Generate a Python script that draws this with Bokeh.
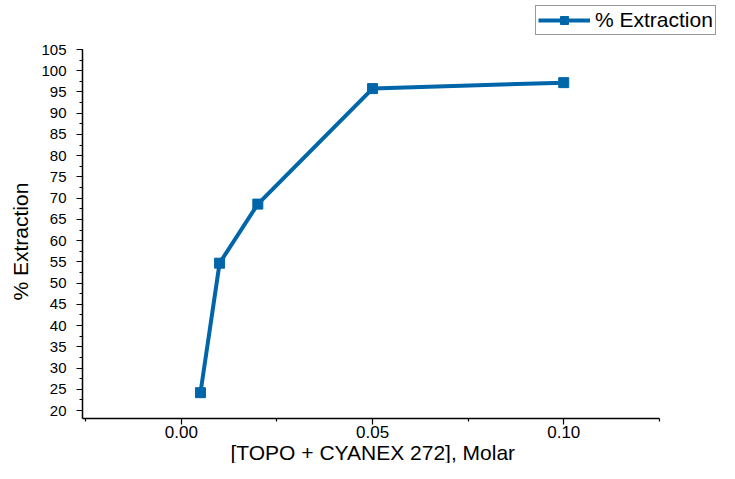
from bokeh.plotting import figure
from bokeh.models import (FixedTicker, NumeralTickFormatter, Range1d, Legend, LegendItem, Title)
from bokeh.embed import file_html
from bokeh.resources import INLINE

# Data
conc = [0.005, 0.01, 0.02, 0.05, 0.10]
extraction = [24.2, 54.7, 68.6, 95.8, 97.2]

x_major = [0.0, 0.05, 0.10]
x_minor = [-0.025, 0.025, 0.075, 0.125]
y_major = list(range(20, 106, 5))
y_minor = [17.5 + 2.5 * i for i in range(36)]

series_name = "% Extraction"
x_title = "[TOPO + CYANEX 272], Molar"
y_title = "% Extraction"

# axis extents (data units)
x_axis_start, x_axis_end = -0.02585, 0.125
y_axis_start, y_axis_end = 18.12, 105

COLOR = "#0066AA"
FONT = "Liberation Sans"

p = figure(width=719, height=463, output_backend="svg", toolbar_location=None,
           x_range=Range1d(x_axis_start, 0.14073), y_range=Range1d(y_axis_start, 116.54),
           min_border_left=81, min_border_right=0, min_border_top=0, min_border_bottom=45)
p.outline_line_color = None
p.xgrid.visible = False
p.ygrid.visible = False
p.background_fill_color = "white"

line = p.line(conc, extraction, line_color=COLOR, line_width=4)
pts = p.scatter(conc, extraction, marker="square", size=10, fill_color=COLOR, line_color=COLOR)

for ax in (p.xaxis[0], p.yaxis[0]):
    ax.axis_line_color = "black"
    ax.axis_line_width = 1.5
    ax.major_tick_line_color = "black"
    ax.minor_tick_line_color = "black"
    ax.major_tick_line_width = 1.2
    ax.minor_tick_line_width = 1.2
    ax.major_tick_out = 6
    ax.major_tick_in = 0
    ax.minor_tick_out = 3
    ax.minor_tick_in = 0
    ax.major_label_text_font = FONT
    ax.major_label_text_color = "black"

p.xaxis.bounds = (x_axis_start, x_axis_end)
p.xaxis.ticker = FixedTicker(ticks=x_major, minor_ticks=x_minor)
p.xaxis.formatter = NumeralTickFormatter(format="0.00")
p.xaxis.major_label_text_font_size = "17px"
p.xaxis.major_label_standoff = 1

p.yaxis.bounds = (y_axis_start, y_axis_end)
p.yaxis.ticker = FixedTicker(ticks=y_major, minor_ticks=y_minor)
p.yaxis.major_label_text_font_size = "15px"
p.yaxis.major_label_standoff = 10

# axis titles as side-panel titles so they can be positioned like the reference
xt = Title(text=x_title, align="left", offset=148, standoff=-4,
           text_font=FONT, text_font_size="21px", text_font_style="normal",
           text_color="black")
p.add_layout(xt, "below")
yt = Title(text=y_title, align="left", offset=118, standoff=13,
           text_font=FONT, text_font_size="21px", text_font_style="normal",
           text_color="black")
p.add_layout(yt, "left")

legend = Legend(items=[LegendItem(label=series_name, renderers=[line, pts])],
                location=(453, 383), orientation="vertical",
                border_line_color="#333333", border_line_width=1,
                padding=2, margin=0, label_standoff=5,
                glyph_width=52, glyph_height=20, spacing=0,
                label_text_font=FONT, label_text_font_size="21px",
                label_text_color="black",
                background_fill_color="white", background_fill_alpha=1.0)
p.add_layout(legend, "center")

open("out.html", "w").write(file_html(p, INLINE))
